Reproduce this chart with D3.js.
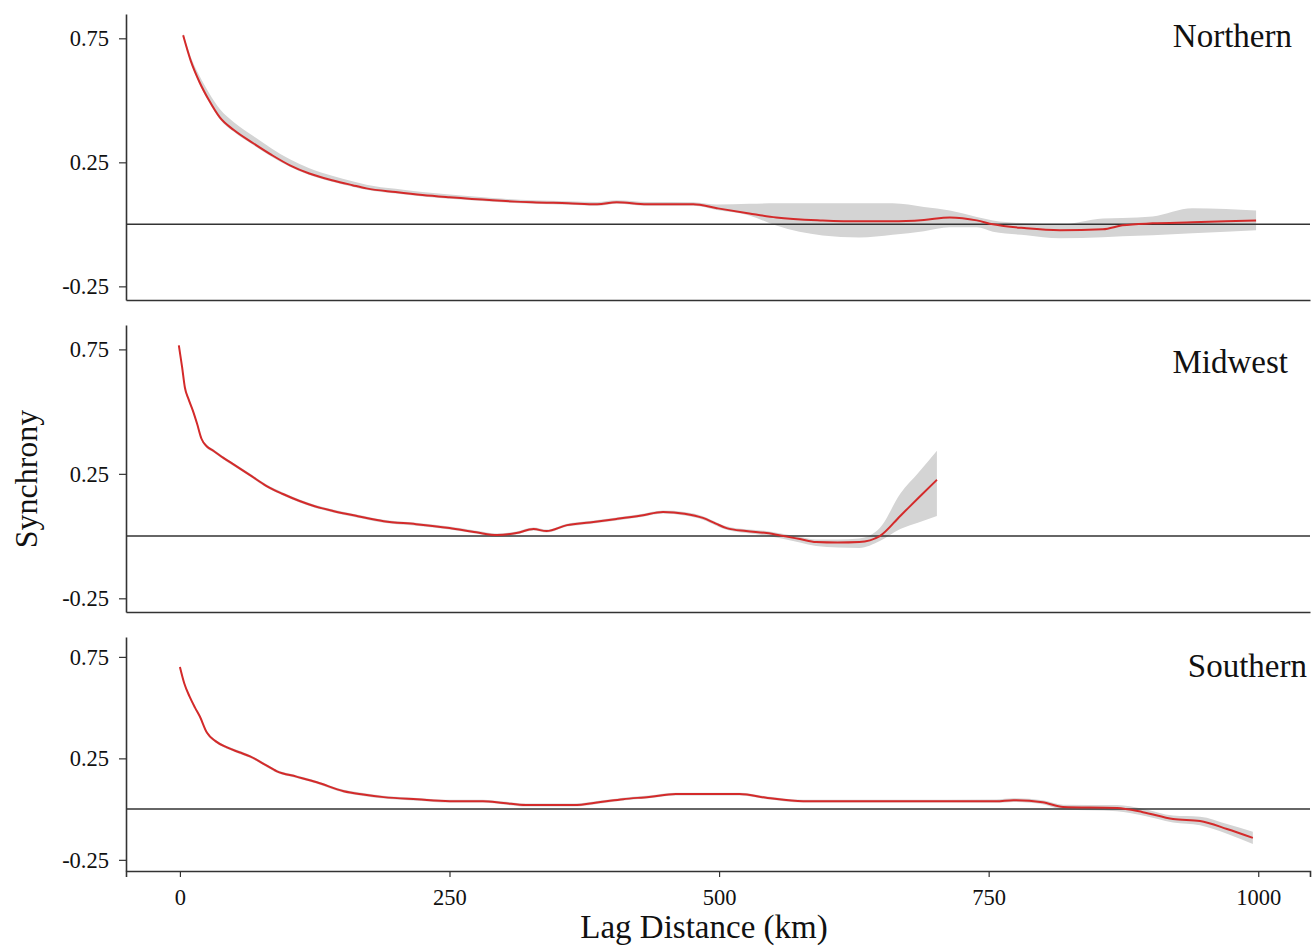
<!DOCTYPE html>
<html>
<head>
<meta charset="utf-8">
<script src="https://cdn.jsdelivr.net/npm/d3@7"></script>
<style>
  body { margin: 0; background: #fff; }
  svg { display: block; }
  text { font-family: "Liberation Serif", "Times New Roman", serif; fill: #111; }
</style>
</head>
<body>
<div id="chart"></div>
<script>
// --- data (lag distance in km, synchrony) ---
var regionNames = ['Northern', 'Midwest', 'Southern'];

var northKm    = [3, 10, 18, 27, 37, 50, 68, 85, 102, 120, 142, 160, 173, 200, 225, 250, 290, 327, 360, 387, 405, 433, 476, 498, 528, 553, 596, 630, 661, 690, 714, 739, 754, 785, 816, 856, 874, 902, 939, 970, 998];
var northFit   = [0.762, 0.66, 0.575, 0.5, 0.431, 0.38, 0.327, 0.28, 0.238, 0.205, 0.177, 0.158, 0.145, 0.13, 0.118, 0.109, 0.097, 0.089, 0.085, 0.081, 0.089, 0.081, 0.081, 0.065, 0.044, 0.028, 0.016, 0.012, 0.012, 0.018, 0.028, 0.016, 0.0, -0.016, -0.024, -0.02, -0.004, 0.004, 0.008, 0.012, 0.016];
var northLower = [0.755, 0.652, 0.568, 0.492, 0.424, 0.373, 0.32, 0.273, 0.232, 0.199, 0.171, 0.152, 0.139, 0.124, 0.112, 0.103, 0.091, 0.083, 0.079, 0.075, 0.083, 0.075, 0.075, 0.058, 0.036, -0.005, -0.045, -0.053, -0.042, -0.028, -0.012, -0.012, -0.03, -0.044, -0.056, -0.052, -0.048, -0.044, -0.036, -0.03, -0.024];
var northUpper = [0.77, 0.676, 0.6, 0.53, 0.465, 0.412, 0.356, 0.306, 0.262, 0.226, 0.195, 0.174, 0.16, 0.143, 0.13, 0.12, 0.106, 0.097, 0.093, 0.09, 0.097, 0.09, 0.089, 0.08, 0.083, 0.085, 0.085, 0.085, 0.085, 0.07, 0.056, 0.03, 0.016, 0.004, 0.0, 0.024, 0.026, 0.032, 0.065, 0.062, 0.056];

var midKm    = [-1, 2, 4.6, 8, 12, 16, 20, 25, 31, 40, 49, 65, 80, 95, 111, 125, 142, 165, 189, 219, 250, 275, 294, 312, 328, 340, 359, 380, 405, 428, 448, 468, 485, 497, 507, 525, 544, 560, 575, 590, 610, 630, 649, 668, 685, 702];
var midFit   = [0.766, 0.68, 0.597, 0.55, 0.504, 0.45, 0.391, 0.36, 0.343, 0.315, 0.29, 0.245, 0.202, 0.17, 0.141, 0.12, 0.101, 0.08, 0.06, 0.048, 0.032, 0.015, 0.004, 0.012, 0.028, 0.02, 0.044, 0.055, 0.069, 0.083, 0.097, 0.09, 0.073, 0.05, 0.032, 0.02, 0.012, 0.0, -0.012, -0.024, -0.026, -0.024, 0.0, 0.081, 0.154, 0.226];
var midLower = [0.76, 0.673, 0.59, 0.543, 0.497, 0.443, 0.385, 0.354, 0.337, 0.309, 0.284, 0.239, 0.196, 0.164, 0.135, 0.114, 0.095, 0.074, 0.054, 0.042, 0.026, 0.009, -0.002, 0.006, 0.022, 0.014, 0.038, 0.049, 0.063, 0.077, 0.091, 0.083, 0.066, 0.043, 0.025, 0.012, 0.002, -0.012, -0.026, -0.04, -0.046, -0.048, -0.02, 0.028, 0.055, 0.081];
var midUpper = [0.772, 0.687, 0.604, 0.557, 0.511, 0.457, 0.398, 0.366, 0.349, 0.321, 0.296, 0.251, 0.208, 0.176, 0.147, 0.126, 0.107, 0.086, 0.066, 0.054, 0.038, 0.021, 0.01, 0.018, 0.034, 0.026, 0.05, 0.061, 0.075, 0.089, 0.103, 0.097, 0.08, 0.057, 0.039, 0.027, 0.02, 0.008, -0.004, -0.014, -0.014, -0.01, 0.032, 0.17, 0.255, 0.343];

var southKm    = [0, 4, 9, 14, 18.5, 25, 33, 43.6, 55, 65, 78, 90, 108, 127, 152, 170, 189, 220, 250, 281, 300, 321, 365, 390, 411, 435, 460, 519, 545, 578, 661, 757, 773, 800, 819, 869, 893, 921, 946, 971, 995];
var southFit   = [0.70, 0.62, 0.554, 0.5, 0.456, 0.377, 0.335, 0.304, 0.28, 0.26, 0.222, 0.186, 0.16, 0.132, 0.088, 0.072, 0.059, 0.048, 0.039, 0.039, 0.03, 0.02, 0.02, 0.035, 0.049, 0.06, 0.074, 0.074, 0.055, 0.039, 0.039, 0.039, 0.044, 0.034, 0.01, 0.005, -0.015, -0.049, -0.059, -0.098, -0.142];
var southLower = [0.693, 0.613, 0.547, 0.493, 0.449, 0.37, 0.328, 0.297, 0.273, 0.253, 0.215, 0.179, 0.153, 0.125, 0.081, 0.065, 0.052, 0.041, 0.032, 0.032, 0.023, 0.013, 0.013, 0.028, 0.042, 0.053, 0.067, 0.067, 0.048, 0.032, 0.032, 0.031, 0.035, 0.024, -0.002, -0.01, -0.032, -0.066, -0.08, -0.122, -0.172];
var southUpper = [0.707, 0.627, 0.561, 0.507, 0.463, 0.384, 0.342, 0.311, 0.287, 0.267, 0.229, 0.193, 0.167, 0.139, 0.095, 0.079, 0.066, 0.055, 0.046, 0.046, 0.037, 0.027, 0.027, 0.042, 0.056, 0.067, 0.081, 0.081, 0.062, 0.046, 0.046, 0.047, 0.053, 0.044, 0.022, 0.02, 0.002, -0.032, -0.038, -0.074, -0.112];

var xTicks = [0, 250, 500, 750, 1000];
var yTicks = [-0.25, 0.25, 0.75];

// --- layout ---
var width = 1312, height = 949;
var plotLeft = 126, plotRight = 1310;
var panelBox = [
  { top: 14,  bottom: 300, labelX: 1292, labelY: 47 },
  { top: 325, bottom: 612, labelX: 1288, labelY: 373 },
  { top: 637, bottom: 871, labelX: 1307, labelY: 677 }
];

var series = [
  { km: northKm, fit: northFit, lo: northLower, hi: northUpper },
  { km: midKm, fit: midFit, lo: midLower, hi: midUpper },
  { km: southKm, fit: southFit, lo: southLower, hi: southUpper }
];

var svg = d3.select('#chart').append('svg')
  .attr('width', width)
  .attr('height', height);

var x = d3.scaleLinear().domain([-50, 1048]).range([plotLeft, plotRight]);

regionNames.forEach(function(name, i) {
  var box = panelBox[i];
  var s = series[i];
  var y = d3.scaleLinear().domain([-0.305, 0.848]).range([box.bottom, box.top]);

  var rows = s.km.map(function(k, j) {
    return { km: k, fit: s.fit[j], lo: s.lo[j], hi: s.hi[j] };
  });

  var g = svg.append('g').attr('class', 'panel');

  // confidence ribbon
  g.append('path')
    .datum(rows)
    .attr('fill', '#d4d4d4')
    .attr('d', d3.area()
      .x(function(d) { return x(d.km); })
      .y0(function(d) { return y(d.lo); })
      .y1(function(d) { return y(d.hi); })
      .curve(d3.curveMonotoneX));

  // zero reference line
  g.append('line')
    .attr('x1', plotLeft).attr('x2', plotRight)
    .attr('y1', y(0)).attr('y2', y(0))
    .attr('stroke', '#333').attr('stroke-width', 1.5);

  // fitted curve
  g.append('path')
    .datum(rows)
    .attr('fill', 'none')
    .attr('stroke', '#d42a2a')
    .attr('stroke-width', 2)
    .attr('d', d3.line()
      .x(function(d) { return x(d.km); })
      .y(function(d) { return y(d.fit); })
      .curve(d3.curveMonotoneX));

  // y axis
  var yAxis = g.append('g')
    .attr('transform', 'translate(' + plotLeft + ',0)')
    .call(d3.axisLeft(y).tickValues(yTicks).tickSize(7).tickSizeOuter(0).tickPadding(10)
      .tickFormat(function(d) { return d.toFixed(2); }));

  // x axis (labels only on the last panel)
  var last = i === regionNames.length - 1;
  var xAxisGen = d3.axisBottom(x).tickSizeOuter(0);
  if (last) {
    xAxisGen.tickValues(xTicks).tickSize(6).tickPadding(12).tickFormat(d3.format('d'));
  } else {
    xAxisGen.tickValues([]);
  }
  var xAxis = g.append('g')
    .attr('transform', 'translate(0,' + box.bottom + ')')
    .call(xAxisGen);

  [yAxis, xAxis].forEach(function(ax) {
    ax.select('.domain').attr('stroke', '#333').attr('stroke-width', 1.6);
    ax.selectAll('.tick line').attr('stroke', '#333').attr('stroke-width', 1.2);
    ax.selectAll('.tick text')
      .attr('fill', '#222')
      .style('font-family', '"Liberation Serif", "Times New Roman", serif')
      .style('font-size', '22.5px');
  });

  // region label
  g.append('text')
    .attr('x', box.labelX)
    .attr('y', box.labelY)
    .attr('text-anchor', 'end')
    .style('font-size', '33px')
    .text(name);
});

// axis titles
svg.append('text')
  .attr('x', 704)
  .attr('y', 938)
  .attr('text-anchor', 'middle')
  .style('font-size', '33px')
  .text('Lag Distance (km)');

svg.append('text')
  .attr('transform', 'translate(37,479) rotate(-90)')
  .attr('text-anchor', 'middle')
  .style('font-size', '32px')
  .text('Synchrony');
</script>
</body>
</html>
